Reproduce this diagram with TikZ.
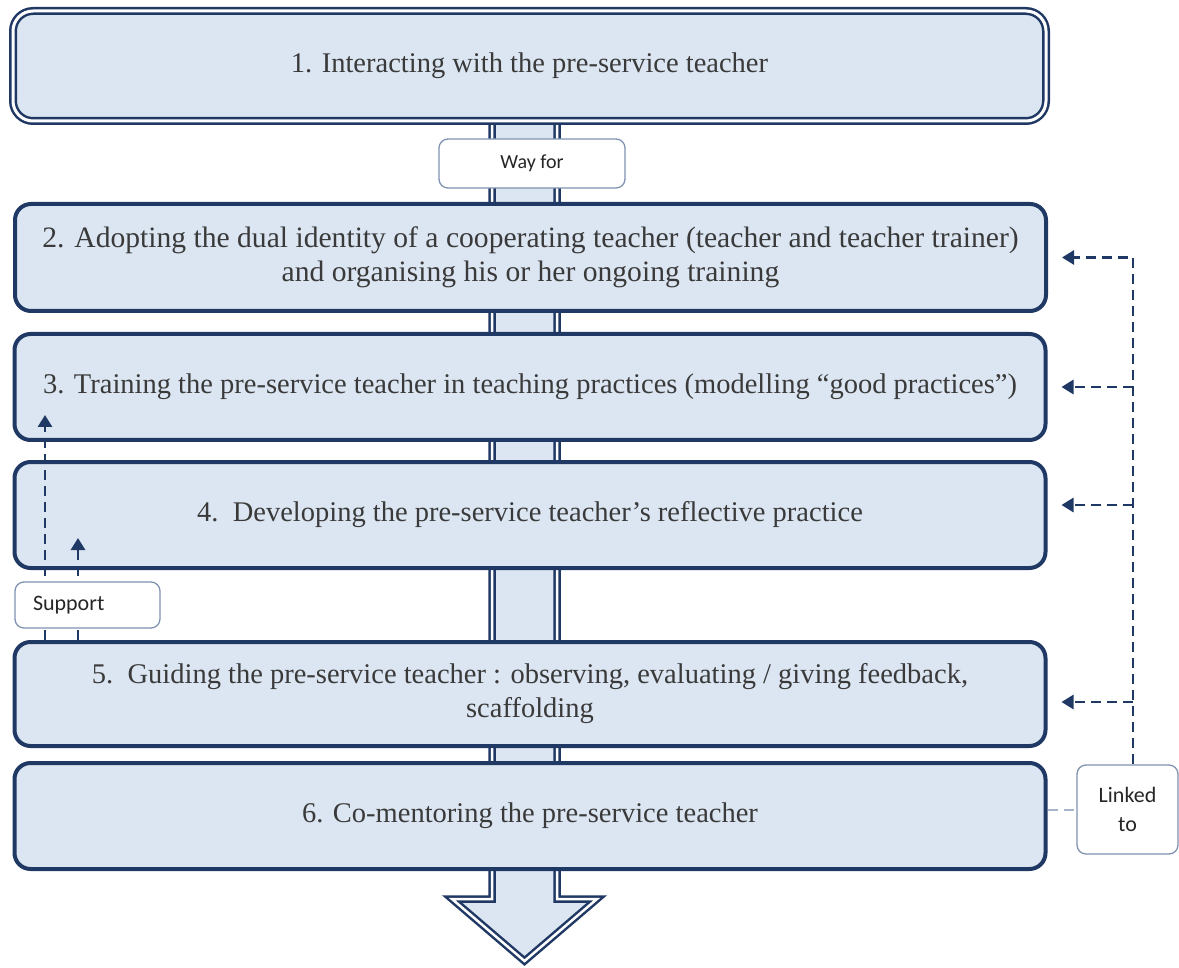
\documentclass[tikz,border=0pt]{standalone}
\usepackage{fontspec}
\newfontfamily\serifmain{Liberation Serif}
\newfontfamily\calibri{Carlito}
\usetikzlibrary{arrows.meta}
\definecolor{navy}{HTML}{203864}
\definecolor{boxfill}{HTML}{DCE6F2}
\definecolor{txt}{HTML}{3A3A3A}
\definecolor{lblborder}{HTML}{7F93B0}
\definecolor{linkgrey}{HTML}{A9B6C9}
\begin{document}
\begin{tikzpicture}[x=1pt,y=-1pt,
  stagebox/.style={draw=navy, fill=boxfill, line width=4pt, rounded corners=16pt,
    inner sep=0pt, text=txt, font=\serifmain\fontsize{28.5}{34}\selectfont, align=center,
    minimum width=1031pt},
  firstbox/.style={stagebox, line width=2.5pt, double=white, double distance=3pt,
    rounded corners=20pt, minimum width=1033pt},
  lblbox/.style={draw=lblborder, fill=white, line width=1.3pt, rounded corners=9pt,
    inner sep=0pt, text=black!85, font=\calibri\fontsize{22}{29}\selectfont},
  bigarrow/.style={draw=navy, fill=boxfill, line width=2.5pt, double=white,
    double distance=2.5pt},
  dconn/.style={draw=navy, line width=2.8pt, dash pattern=on 10pt off 6pt,
    -{Triangle[length=12pt,width=14pt]}},
  greyconn/.style={draw=linkgrey, line width=2pt, dash pattern=on 10pt off 6pt}
]
\useasboundingbox (0,0) rectangle (1179,968);

% big background arrow
\draw[bigarrow] (492,100) -- (492,899) -- (452,899) -- (524.5,961) -- (597,899)
  -- (557,899) -- (557,100);

% stages
\node[firstbox, minimum height=110pt] (b1) at (529.5,66)
  {1. Interacting with the pre-service teacher};
\node[stagebox, minimum height=107pt, font=\serifmain\fontsize{29.6}{34}\selectfont]
  (b2) at (530.5,257.5)
  {2. Adopting the dual identity of a cooperating teacher (teacher and teacher trainer)\\
   and organising his or her ongoing training};
\node[stagebox, minimum height=106pt] (b3) at (530,387)
  {3. Training the pre-service teacher in teaching practices (modelling \textquotedblleft good practices\textquotedblright)};
\node[stagebox, minimum height=106pt] (b4) at (530,515)
  {4.\ \ Developing the pre-service teacher\textquoteright s reflective practice};
\node[stagebox, minimum height=104pt] (b5) at (530,694)
  {5.\ \ Guiding the pre-service teacher : observing, evaluating / giving feedback,\\
   scaffolding};
\node[stagebox, minimum height=106pt] (b6) at (530,816)
  {6. Co-mentoring the pre-service teacher};

% Way for label
\node[lblbox, font=\calibri\fontsize{20}{24}\selectfont, minimum width=186pt,
  minimum height=49pt] (way) at (532,163.5) {Way for};

% Support arrows
\coordinate (s1) at (45,415);
\coordinate (s2) at (78,538);
\draw[dconn] (s1 |- b5.north) -- (s1);
\draw[dconn] (s2 |- b5.north) -- (s2);
\node[lblbox, minimum width=145pt, minimum height=46pt, text width=109pt,
  inner xsep=18pt, align=left] (support) at (87.5,605) {Support};

% Linked to
\node[lblbox, minimum width=101pt, minimum height=89pt, align=center]
  (link) at (1127.5,809.5) {Linked\\to};
\coordinate (t) at (1133,256);
\coordinate (b4r) at ([yshift=10pt]b4.east);
\coordinate (b5r) at ([yshift=-8pt]b5.east);
\draw[dconn] (link.north -| t) |- ([xshift=14pt]b2.east);
\draw[dconn] (t |- b3.east) -- ([xshift=14pt]b3.east);
\draw[dconn] (t |- b4r) -- ([xshift=14pt]b4r);
\draw[dconn] (t |- b5r) -- ([xshift=14pt]b5r);
\draw[greyconn] (link.west -| b6.east) -- (link.west);
\end{tikzpicture}
\end{document}
